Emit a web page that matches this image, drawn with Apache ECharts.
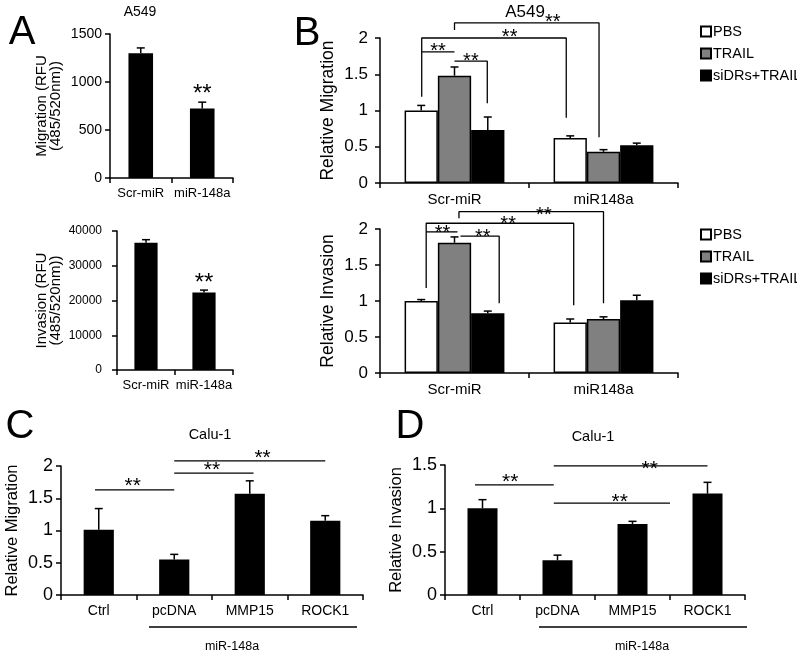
<!DOCTYPE html>
<html><head><meta charset="utf-8">
<script src="https://cdn.jsdelivr.net/npm/echarts@6/dist/echarts.min.js"></script>
<style>html,body{margin:0;padding:0;background:#fff}#c{width:797px;height:653px}</style>
</head><body><div id="c"></div>
<script>
// ---------- DATA ----------
const A_cats = ['Scr-miR', 'miR-148a'];
const A_mig = [1300, 725];
const A_migErr = [1355, 790];
const A_inv = [36600, 22300];
const A_invErr = [37500, 23000];

const B_groups = ['Scr-miR', 'miR148a'];
const B_names = ['PBS', 'TRAIL', 'siDRs+TRAIL'];
const B_mig = [[1.00, 0.62], [1.48, 0.43], [0.73, 0.52]];
const B_migErr = [[1.07, 0.65], [1.60, 0.46], [0.91, 0.55]];
const B_inv = [[1.00, 0.70], [1.81, 0.75], [0.83, 1.01]];
const B_invErr = [[1.02, 0.75], [1.89, 0.78], [0.86, 1.08]];

const C_cats = ['Ctrl', 'pcDNA', 'MMP15', 'ROCK1'];
const C_mig = [1.01, 0.55, 1.57, 1.15];
const C_migErr = [1.34, 0.63, 1.77, 1.23];
const D_inv = [1.00, 0.40, 0.82, 1.17];
const D_invErr = [1.10, 0.46, 0.85, 1.30];

// significance brackets (x in category units, y in data units)
const A_stars = [[1.0, 930]];
const A2_stars = [[1.0, 26500]];
const B1_brackets = [
  [[-0.22, 1.19], [-0.22, 2.0], [0.75, 2.0], [0.75, 0.90]],
  [[-0.22, 1.81], [0.0, 1.81]],
  [[0.0, 1.68], [0.22, 1.68], [0.22, 1.10]],
  [[0.0, 2.11], [0.0, 2.21], [0.97, 2.21], [0.97, 0.63]]
];
const B1_stars = [[-0.11, 1.88], [0.11, 1.74], [0.37, 2.07], [0.66, 2.28]];
const B2_brackets = [
  [[-0.19, 1.18], [-0.19, 2.08], [0.80, 2.08], [0.80, 0.94]],
  [[-0.19, 1.96], [0.02, 1.96]],
  [[0.04, 1.90], [0.30, 1.90], [0.30, 0.97]],
  [[0.03, 2.15], [0.03, 2.24], [1.0, 2.24], [1.0, 0.97]]
];
const B2_stars = [[-0.08, 2.0], [0.19, 1.95], [0.36, 2.13], [0.6, 2.25]];
const C_brackets = [
  [[-0.05, 1.63], [1.0, 1.63]],
  [[1.0, 1.89], [2.05, 1.89]],
  [[1.0, 2.08], [3.0, 2.08]]
];
const C_stars = [[0.45, 1.76], [1.5, 2.0], [2.17, 2.2]];
const D_brackets = [
  [[-0.1, 1.27], [0.95, 1.27]],
  [[0.95, 1.49], [3.0, 1.49]],
  [[0.95, 1.06], [2.5, 1.06]]
];
const D_stars = [[0.37, 1.35], [2.23, 1.51], [1.83, 1.12]];

// ---------- CHART ----------
const FONT = 'Liberation Sans, Arial, sans-serif';
const chart = echarts.init(document.getElementById('c'));
const grids = [
  {left: 110, top: 34, width: 123, height: 144},
  {left: 117, top: 231, width: 116, height: 139},
  {left: 380, top: 38, width: 298, height: 145},
  {left: 380, top: 229, width: 298, height: 144},
  {left: 61, top: 466, width: 302, height: 129},
  {left: 445, top: 465, width: 300, height: 130}
];
const cats = [A_cats, A_cats, B_groups, B_groups, C_cats, C_cats];
const labelSize = [13, 13, 15, 15, 14, 14];
const xAxes = [], yAxes = [];
const yCfg = [
  {max: 1500, interval: 500, name: 'Migration (RFU\n(485/520nm))', fs: 14, m: 8, nfs: 15, lh: 14, gap: 47},
  {max: 40000, interval: 10000, name: 'Invasion (RFU\n(485/520nm))', fs: 12, m: 15, nfs: 15, lh: 14, gap: 54},
  {max: 2, interval: 0.5, name: 'Relative Migration', fs: 17, m: 12, nfs: 17.5, lh: 18, gap: 43},
  {max: 2, interval: 0.5, name: 'Relative Invasion', fs: 17, m: 12, nfs: 17.5, lh: 18, gap: 43},
  {max: 2, interval: 0.5, name: 'Relative Migration', fs: 18, m: 8, nfs: 16.5, lh: 17, gap: 40},
  {max: 1.5, interval: 0.5, name: 'Relative Invasion', fs: 18, m: 8, nfs: 16.5, lh: 17, gap: 40}
];
grids.forEach((g, i) => {
  xAxes.push({gridIndex: i, type: 'category', data: cats[i],
    axisLine: {onZero: false, lineStyle: {color: '#000', width: 1.5}},
    axisTick: {show: true, length: 5, lineStyle: {color: '#000', width: 1.5}},
    axisLabel: {color: '#000', fontSize: labelSize[i], fontFamily: FONT, margin: 9, interval: 0}});
  xAxes.push({gridIndex: i, type: 'value', min: -0.5, max: cats[i].length - 0.5, show: false,
    axisLine: {onZero: false}});
  const y = yCfg[i];
  yAxes.push({gridIndex: i, type: 'value', min: 0, max: y.max, interval: y.interval,
    axisLine: {show: true, onZero: false, lineStyle: {color: '#000', width: 1.5}},
    axisTick: {show: true, length: 5, lineStyle: {color: '#000', width: 1.5}},
    splitLine: {show: false},
    axisLabel: {color: '#000', fontSize: y.fs, fontFamily: FONT, margin: y.m, formatter: v => String(v)},
    name: y.name, nameLocation: 'middle', nameRotate: 90, nameGap: y.gap,
    nameTextStyle: {color: '#000', fontSize: y.nfs, fontFamily: FONT, lineHeight: y.lh}});
});

const series = [];
function errSeries(gi, pts) {
  series.push({type: 'custom', xAxisIndex: gi * 2 + 1, yAxisIndex: gi, clip: false, silent: true, z: 5,
    data: pts,
    renderItem: function (params, api) {
      const p0 = api.coord([api.value(0), api.value(1)]);
      const p1 = api.coord([api.value(0), api.value(2)]);
      return {type: 'group', children: [
        {type: 'line', shape: {x1: p0[0], y1: p0[1], x2: p1[0], y2: p1[1]}, style: {stroke: '#000', lineWidth: 1.5}},
        {type: 'line', shape: {x1: p1[0] - 4, y1: p1[1], x2: p1[0] + 4, y2: p1[1]}, style: {stroke: '#000', lineWidth: 1.5}}
      ]};
    }});
}
function bracketSeries(gi, brs) {
  brs.forEach(b => series.push({type: 'line', xAxisIndex: gi * 2 + 1, yAxisIndex: gi, data: b,
    showSymbol: false, symbol: 'none', clip: false, silent: true, z: 6,
    lineStyle: {color: '#000', width: 1.3}}));
}
function starSeries(gi, pts, fs) {
  series.push({type: 'custom', xAxisIndex: gi * 2 + 1, yAxisIndex: gi, clip: false, silent: true, z: 7,
    data: pts,
    renderItem: function (params, api) {
      const p = api.coord([api.value(0), api.value(1)]);
      return {type: 'text', x: p[0], y: p[1] + fs * 0.22,
        style: {text: '**', font: fs + 'px ' + FONT, fill: '#000', textAlign: 'center', textVerticalAlign: 'middle'}};
    }});
}
function simpleBars(gi, vals, errs) {
  series.push({type: 'bar', xAxisIndex: gi * 2, yAxisIndex: gi, data: vals, barWidth: '40%',
    itemStyle: {color: '#000'}, silent: true});
  errSeries(gi, vals.map((v, i) => [i, v, errs[i]]));
}
// A
simpleBars(0, A_mig, A_migErr); starSeries(0, A_stars, 24);
simpleBars(1, A_inv, A_invErr); starSeries(1, A2_stars, 24);
// B
const fills = ['#ffffff', '#808080', '#000000'];
const gapFrac = 0.33, slot = (1 - gapFrac) / 3;
[[2, B_mig, B_migErr, B1_brackets, B1_stars], [3, B_inv, B_invErr, B2_brackets, B2_stars]].forEach(cfg => {
  const [gi, vals, errs, brs, stars] = cfg;
  B_names.forEach((nm, s) => {
    series.push({type: 'bar', name: nm, xAxisIndex: gi * 2, yAxisIndex: gi, data: vals[s],
      barGap: '0%', barCategoryGap: '33%', silent: true,
      itemStyle: {color: fills[s], borderColor: '#000', borderWidth: 1.5}});
    errSeries(gi, vals[s].map((v, k) => [k + (s - 1) * slot, v, errs[s][k]]));
  });
  bracketSeries(gi, brs);
  starSeries(gi, stars, 20);
});
// C, D
simpleBars(4, C_mig, C_migErr); bracketSeries(4, C_brackets); starSeries(4, C_stars, 21);
simpleBars(5, D_inv, D_invErr); bracketSeries(5, D_brackets); starSeries(5, D_stars, 21);

function txt(t, x, y, fs, align) {
  return {type: 'text', x: x, y: y, style: {text: t, font: fs + 'px ' + FONT, fill: '#000',
    textAlign: align || 'center', textVerticalAlign: 'middle'}};
}
const legendBase = {orient: 'vertical', left: 695, itemWidth: 10, itemHeight: 10, itemGap: 7,
  icon: 'rect', selectedMode: false, data: B_names,
  textStyle: {color: '#000', fontSize: 14.5, fontFamily: FONT, padding: [0, 0, 0, -3]}};

chart.setOption({
  animation: false,
  backgroundColor: '#fff',
  grid: grids,
  xAxis: xAxes,
  yAxis: yAxes,
  legend: [Object.assign({top: 19}, legendBase), Object.assign({top: 222}, legendBase)],
  series: series,
  graphic: [
    txt('A', 22, 33, 40), txt('B', 307, 34, 40), txt('C', 20, 427, 40), txt('D', 410, 427, 40),
    txt('A549', 140, 12, 14), txt('A549', 525, 12, 17),
    txt('Calu-1', 210, 435, 14.5), txt('Calu-1', 593, 437, 14.5),
    txt('miR-148a', 232, 647, 12.5), txt('miR-148a', 642, 647, 12.5),
    {type: 'line', shape: {x1: 149, y1: 627, x2: 357, y2: 627}, style: {stroke: '#000', lineWidth: 1.3}},
    {type: 'line', shape: {x1: 539, y1: 627, x2: 747, y2: 627}, style: {stroke: '#000', lineWidth: 1.3}}
  ]
});
</script></body></html>
